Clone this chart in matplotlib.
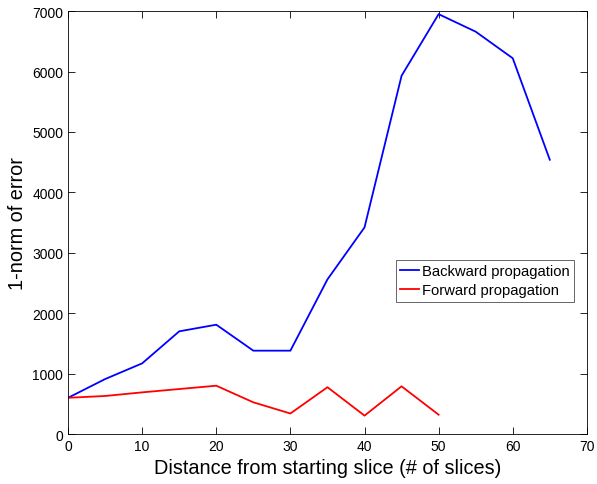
import matplotlib
matplotlib.use('Agg')
import matplotlib.pyplot as plt

plt.rcParams['font.family'] = ['Liberation Sans', 'DejaVu Sans']

xBack = [0, 5, 10, 15, 20, 25, 30, 35, 40, 45, 50, 55, 60, 65]
yBack = [600, 910, 1170, 1700, 1810, 1380, 1380, 2560, 3420, 5930, 6950, 6660, 6220, 4540]
xFwd = [0, 5, 10, 15, 20, 25, 30, 35, 40, 45, 50]
yFwd = [600, 630, 690, 745, 800, 525, 340, 775, 305, 790, 320]

fig = plt.figure(figsize=(5.97, 4.85), dpi=100)
ax = fig.add_axes([0.114, 0.103, 0.869, 0.872])

ax.plot(xBack, yBack, color=(0, 0, 1), lw=1.3, label='Backward propagation')
ax.plot(xFwd, yFwd, color=(1, 0, 0), lw=1.3, label='Forward propagation')

ax.set_xlim(0, 70)
ax.set_ylim(0, 7000)
ax.set_xticks(range(0, 71, 10))
ax.set_yticks(range(0, 7001, 1000))
ax.tick_params(direction='in', top=True, right=True, labelsize=10, length=5, width=0.6)
for s in ax.spines.values():
    s.set_linewidth(0.6)

ax.set_xlabel('Distance from starting slice (# of slices)', fontsize=14.3, labelpad=4)
ax.set_ylabel('1-norm of error', fontsize=14.3, labelpad=4)

leg = ax.legend(loc='upper left', bbox_to_anchor=(0.632, 0.412), fontsize=10.6,
                handlelength=1.3, handletextpad=0.15, borderpad=0.3, labelspacing=0.35,
                borderaxespad=0, fancybox=False, framealpha=1)
leg.get_frame().set_edgecolor('0.3')
leg.get_frame().set_linewidth(0.6)

fig.savefig('out.png', dpi=100)
